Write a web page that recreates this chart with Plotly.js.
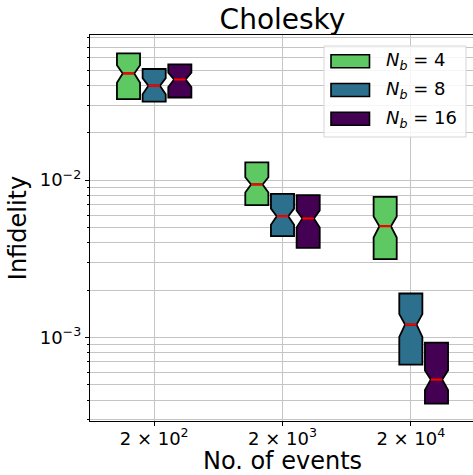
<!DOCTYPE html>
<html>
<head>
<meta charset="utf-8">
<script src="https://cdn.plot.ly/plotly-3.0.1.min.js"></script>
<style>
  html, body { margin: 0; padding: 0; overflow: hidden; background: #fff; }
</style>
</head>
<body>
<div id="chart"></div>
<script>
// Number of events per run and their tick labels
const events = [200, 2000, 20000];
const eventLabels = ['2 × 10<sup>2</sup>', '2 × 10<sup>3</sup>', '2 × 10<sup>4</sup>'];

// Block sizes N_b and their colours
const blockSizes = [4, 8, 16];
const seriesColors = ['#5ec962', '#2c708e', '#440154'];

// Infidelity box statistics, one value per event count
const q1_nb4      = [0.0327, 0.00694, 0.00315];
const median_nb4  = [0.0476, 0.00939, 0.00510];
const q3_nb4      = [0.0639, 0.01296, 0.00783];
const notch_nb4   = [0.0061, 0.00104, 0.00078];

const q1_nb8      = [0.0315, 0.00441, 0.000674];
const median_nb8  = [0.0398, 0.00590, 0.00121];
const q3_nb8      = [0.0508, 0.00818, 0.001905];
const notch_nb8   = [0.0047, 0.00069, 0.00020];

const q1_nb16     = [0.0335, 0.00371, 0.000380];
const median_nb16 = [0.0436, 0.00571, 0.000541];
const q3_nb16     = [0.0544, 0.00803, 0.000929];
const notch_nb16  = [0.0046, 0.00070, 0.000077];

// Y axis ticks
const yMajor = [1e-3, 1e-2];
const yMajorLabels = ['10<sup>−3</sup>', '10<sup>−2</sup>'];
const yMinor = [3e-4, 4e-4, 5e-4, 6e-4, 7e-4, 8e-4, 9e-4,
                2e-3, 3e-3, 4e-3, 5e-3, 6e-3, 7e-3, 8e-3, 9e-3,
                2e-2, 3e-2, 4e-2, 5e-2, 6e-2, 7e-2, 8e-2];

const stats = [
  {q1: q1_nb4,  med: median_nb4,  q3: q3_nb4,  notch: notch_nb4},
  {q1: q1_nb8,  med: median_nb8,  q3: q3_nb8,  notch: notch_nb8},
  {q1: q1_nb16, med: median_nb16, q3: q3_nb16, notch: notch_nb16}
];

// Layout geometry (pixels)
const W = 475, H = 475;
const M = {l: 90, r: 0, t: 35, b: 54};
const plotW = W - M.l - M.r, plotH = H - M.t - M.b;
const boxOffset = 0.2;   // decades between neighbouring boxes
const boxWidth = 0.18;   // decades
const gridColor = '#c4c4c4';
const FONT = 'DejaVu Sans, sans-serif';

const logEvents = events.map(v => Math.log10(v));

const traces = [];
stats.forEach((s, k) => {
  const pos = logEvents.map(v => v + (k - 1) * boxOffset);
  traces.push({
    type: 'box',
    name: 'N_b = ' + blockSizes[k],
    x: pos,
    q1: s.q1,
    median: s.med,
    q3: s.q3,
    lowerfence: s.q1,
    upperfence: s.q3,
    notched: true,
    notchspan: s.notch,
    notchwidth: 0.25,
    whiskerwidth: 0,
    width: boxWidth,
    fillcolor: seriesColors[k],
    line: {color: '#000000', width: 1.8},
    hoverinfo: 'skip',
    showlegend: false
  });
});

// Red median bars across each notch
stats.forEach((s, k) => {
  const xs = [], ys = [];
  logEvents.forEach((v, i) => {
    const p = v + (k - 1) * boxOffset;
    xs.push(p - boxWidth / 4, p + boxWidth / 4, null);
    ys.push(s.med[i], s.med[i], null);
  });
  traces.push({
    type: 'scatter', mode: 'lines', x: xs, y: ys,
    line: {color: '#ff0000', width: 2.2},
    hoverinfo: 'skip', showlegend: false
  });
});

// Legend built from the block sizes
const pxX = x => (x - M.l) / plotW;
const pxY = y => 1 - (y - M.t) / plotH;
const shapes = [{
  type: 'rect', xref: 'paper', yref: 'paper',
  x0: pxX(324), x1: pxX(466), y0: pxY(137), y1: pxY(46),
  line: {color: '#d5d5d5', width: 1}, fillcolor: 'rgba(255,255,255,0.85)', layer: 'above'
}];
const annotations = [];
const rowY = [61.3, 90, 118.8];
blockSizes.forEach((nb, k) => {
  shapes.push({
    type: 'rect', xref: 'paper', yref: 'paper',
    x0: pxX(331), x1: pxX(369.5), y0: pxY(rowY[k] + 6.5), y1: pxY(rowY[k] - 6.5),
    line: {color: '#000000', width: 1.6}, fillcolor: seriesColors[k], layer: 'above'
  });
  annotations.push({
    xref: 'paper', yref: 'paper', x: pxX(384), y: pxY(rowY[k]),
    xanchor: 'left', yanchor: 'middle', showarrow: false,
    text: '<i>N</i><sub><i>b</i></sub> = ' + nb,
    font: {family: FONT, size: 18, color: '#000'}
  });
});

const layout = {
  width: W, height: H,
  margin: M,
  paper_bgcolor: '#fff', plot_bgcolor: '#fff',
  font: {family: FONT, color: '#000'},
  showlegend: false,
  boxmode: 'overlay',
  title: {
    text: 'Cholesky',
    font: {family: FONT, size: 28, color: '#000'},
    x: (M.l + plotW / 2) / W, xanchor: 'center',
    y: 1 - 19 / H, yanchor: 'middle', yref: 'container'
  },
  xaxis: {
    type: 'linear',
    range: [logEvents[0] - 0.5, logEvents[2] + 0.5],
    tickmode: 'array', tickvals: logEvents, ticktext: eventLabels,
    ticks: 'outside', ticklen: 4, tickcolor: '#000', tickwidth: 1,
    ticklabelstandoff: -3,
    tickfont: {family: FONT, size: 18, color: '#000'},
    showgrid: true, gridcolor: gridColor, gridwidth: 1,
    zeroline: false,
    showline: true, linecolor: '#000', linewidth: 1.2, mirror: true,
    title: {text: 'No. of events', font: {family: FONT, size: 24, color: '#000'}, standoff: 6}
  },
  yaxis: {
    type: 'log',
    range: [-3.530, -1.078],
    tickmode: 'array', tickvals: yMajor, ticktext: yMajorLabels,
    ticks: 'outside', ticklen: 4, tickcolor: '#000', tickwidth: 1,
    tickfont: {family: FONT, size: 18, color: '#000'},
    showgrid: true, gridcolor: gridColor, gridwidth: 1,
    minor: {tickmode: 'array', tickvals: yMinor, ticks: 'outside', ticklen: 2,
            tickcolor: '#000', showgrid: true, gridcolor: gridColor, gridwidth: 1},
    zeroline: false,
    showline: true, linecolor: '#000', linewidth: 1.2, mirror: true,
    title: {text: 'Infidelity', font: {family: FONT, size: 24, color: '#000'}, standoff: 6}
  },
  shapes: shapes,
  annotations: annotations
};

Plotly.newPlot('chart', traces, layout, {staticPlot: true, displayModeBar: false});
</script>
</body>
</html>
